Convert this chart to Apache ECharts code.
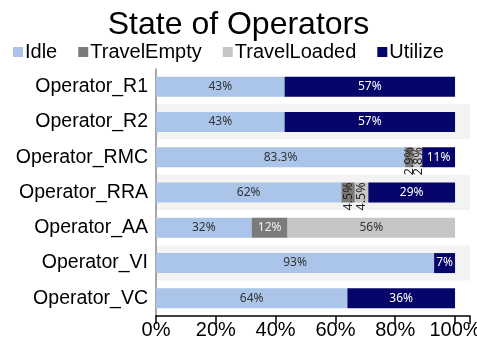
<!DOCTYPE html>
<html>
<head>
<meta charset="utf-8">
<script src="https://cdn.jsdelivr.net/npm/echarts@6/dist/echarts.min.js"></script>
<style>
  html, body { margin: 0; padding: 0; background: #fff; }
  #chart { width: 477px; height: 349px; }
</style>
</head>
<body>
<div id="chart"></div>
<script>
// Operators, top to bottom
const operators = ['Operator_R1', 'Operator_R2', 'Operator_RMC', 'Operator_RRA', 'Operator_AA', 'Operator_VI', 'Operator_VC'];

// Share of time in each state (%)
const idle         = [43, 43, 83.3, 62, 32, 93, 64];
const travelEmpty  = [0, 0, 2.9, 4.5, 12, 0, 0];
const travelLoaded = [0, 0, 2.8, 4.5, 56, 0, 0];
const utilize      = [57, 57, 11, 29, 0, 7, 36];

const xTicks = [0, 20, 40, 60, 80, 100];

const stateNames = ['Idle', 'TravelEmpty', 'TravelLoaded', 'Utilize'];
const stateValues = [idle, travelEmpty, travelLoaded, utilize];
const stateColors = ['#aac5e9', '#7b7b7b', '#c6c6c6', '#05056a'];
const labelColors = ['#333333', '#f0f0f0', '#333333', '#ffffff'];

const labelFont = '"Noto Sans", sans-serif';
const axisFont = '"Liberation Sans", Arial, sans-serif';

function fmt(v) { return v + '%'; }

const series = stateNames.map((name, si) => ({
  name: name,
  type: 'bar',
  stack: 'total',
  barWidth: 20,
  itemStyle: { color: stateColors[si] },
  label: {
    show: true,
    position: 'inside',
    color: labelColors[si],
    fontFamily: labelFont,
    fontSize: 12,
    formatter: p => fmt(p.value)
  },
  data: stateValues[si].map(v => {
    if (!v) return '-';
    // narrow segments get vertical labels
    if (v < 5) {
      return {
        value: v,
        label: { rotate: 90, fontSize: 12.5, color: '#222', offset: [-4, 0] }
      };
    }
    return v;
  })
}));

const chart = echarts.init(document.getElementById('chart'));
chart.setOption({
  animation: false,
  backgroundColor: '#ffffff',
  title: {
    text: 'State of Operators',
    left: 'center',
    top: 4,
    textStyle: {
      fontFamily: axisFont,
      fontSize: 32,
      fontWeight: 'normal',
      color: '#000'
    }
  },
  legend: {
    data: stateNames,
    left: 8,
    top: 37,
    icon: 'rect',
    itemWidth: 10,
    itemHeight: 10,
    itemGap: 21,
    textStyle: {
      fontFamily: axisFont,
      fontSize: 20,
      color: '#000',
      padding: [0, 0, 0, -3]
    }
  },
  grid: { left: 156, right: 7, top: 69, bottom: 33, outerBoundsMode: 'none' },
  xAxis: {
    type: 'value',
    min: xTicks[0],
    max: 105,
    interval: xTicks[1] - xTicks[0],
    axisLine: { show: true, lineStyle: { color: '#000', width: 1.5 } },
    axisTick: { show: true, length: 8, lineStyle: { color: '#000', width: 1.5 } },
    splitLine: { show: false },
    axisLabel: {
      color: '#000',
      fontFamily: axisFont,
      fontSize: 20,
      margin: 4,
      hideOverlap: false,
      formatter: v => xTicks.includes(v) ? v + '%' : ''
    }
  },
  yAxis: {
    type: 'category',
    data: operators,
    inverse: true,
    axisLine: { show: true, lineStyle: { color: '#8a8a8a', width: 1.5 } },
    axisTick: { show: false },
    splitArea: { show: true, areaStyle: { color: ['#ffffff', '#f3f3f3'] } },
    axisLabel: {
      color: '#000',
      fontFamily: axisFont,
      fontSize: 19.5,
      margin: 8
    }
  },
  series: series
});
</script>
</body>
</html>
